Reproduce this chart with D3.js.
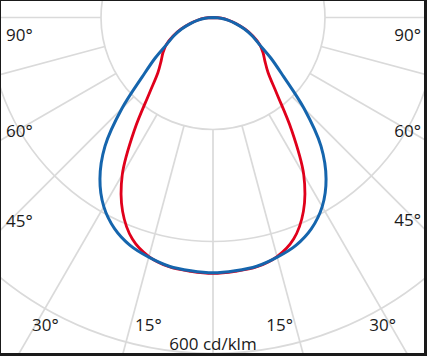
<!DOCTYPE html>
<html>
<head>
<meta charset="utf-8">
<script src="https://cdn.jsdelivr.net/npm/d3@7"></script>
<style>
  html, body { margin: 0; padding: 0; background: #fff; }
  svg { display: block; }
  text { font-family: "Open Sans", "DejaVu Sans", sans-serif; }
</style>
</head>
<body>
<svg id="chart" width="427" height="356"></svg>
<script>
// ---- data (cd/klm), symmetric curves, gamma angle from nadir ----
const gammaAngles = [0,5,10,15,20,25,30,35,40,45,50,55,60,65,70,75,80,85,90];
const blueValues  = [456,454,451,443,433,416,390,352,300,230,165,126,95,77,59,41,27,14,0];
const redValues   = [457,455,452,442,421,382,324,244,177,139,121,109,96,79,61,43,28,15,0];
const gridCircles = [200,400,600];
const gridAngles  = [-90,-75,-60,-45,-30,-15,0,15,30,45,60,75,90];
const angleLabels = ["90°","60°","45°","30°","15°"];
const scaleLabel  = "600 cd/klm";

// ---- layout ----
const W = 427, H = 356;
const cx = 213, cy = 17.5;
const svg = d3.select("#chart");
svg.append("rect").attr("width", W).attr("height", H).attr("fill", "#fff");

const r = d3.scaleLinear().domain([0, 600]).range([0, 336]);
const g = svg.append("g").attr("transform", `translate(${cx},${cy})`);

// grid circles
g.selectAll("circle.grid").data(gridCircles).join("circle")
  .attr("class", "grid")
  .attr("r", d => r(d))
  .attr("fill", "none")
  .attr("stroke", "#dadada")
  .attr("stroke-width", 1.7);

// radial lines (start at innermost circle)
const rad = d => d * Math.PI / 180;
g.selectAll("line.spoke").data(gridAngles).join("line")
  .attr("class", "spoke")
  .attr("x1", d => r(gridCircles[0]) * Math.sin(rad(d)))
  .attr("y1", d => r(gridCircles[0]) * Math.cos(rad(d)))
  .attr("x2", d => r(1200) * Math.sin(rad(d)))
  .attr("y2", d => r(1200) * Math.cos(rad(d)))
  .attr("stroke", "#dadada")
  .attr("stroke-width", 1.7);

// curves
function pts(values) {
  const left = gammaAngles.map((a, i) => ({ a: Math.PI + rad(a), v: values[i] })).reverse();
  const right = gammaAngles.slice(1).map((a, i) => ({ a: Math.PI - rad(a), v: values[i + 1] }));
  return left.concat(right);
}
const line = d3.lineRadial()
  .angle(d => d.a)
  .radius(d => r(d.v))
  .curve(d3.curveCatmullRom.alpha(0.5));

g.append("path").datum(pts(redValues))
  .attr("d", line).attr("fill", "none")
  .attr("stroke", "#e0001b").attr("stroke-width", 2.8)
  .attr("stroke-linejoin", "round");
g.append("path").datum(pts(blueValues))
  .attr("d", line).attr("fill", "none")
  .attr("stroke", "#1565ad").attr("stroke-width", 3)
  .attr("stroke-linejoin", "round");

// angle labels
const fs = 17;
const labelPos = [
  { t: angleLabels[0], x: 6,   y: 41,  anchor: "start" },
  { t: angleLabels[1], x: 6,   y: 137, anchor: "start" },
  { t: angleLabels[2], x: 6,   y: 227, anchor: "start" },
  { t: angleLabels[3], x: 32,  y: 331, anchor: "start" },
  { t: angleLabels[4], x: 135, y: 331, anchor: "start" },
  { t: angleLabels[0], x: 421, y: 41,  anchor: "end" },
  { t: angleLabels[1], x: 421, y: 137, anchor: "end" },
  { t: angleLabels[2], x: 421, y: 226, anchor: "end" },
  { t: angleLabels[3], x: 396, y: 331, anchor: "end" },
  { t: angleLabels[4], x: 293, y: 331, anchor: "end" }
];
svg.selectAll("text.ang").data(labelPos).join("text")
  .attr("class", "ang")
  .attr("x", d => d.x).attr("y", d => d.y)
  .attr("text-anchor", d => d.anchor)
  .attr("font-size", fs)
  .attr("fill", "#1a1a1a")
  .text(d => d.t);

svg.append("text")
  .attr("x", cx).attr("y", 350)
  .attr("text-anchor", "middle")
  .attr("font-size", fs)
  .attr("fill", "#1a1a1a")
  .text(scaleLabel);

// frame
svg.append("rect").attr("x", 0).attr("y", 0).attr("width", 1).attr("height", H).attr("fill", "#1a1a1a");
svg.append("rect").attr("x", 0).attr("y", 0).attr("width", W).attr("height", 1).attr("fill", "#1a1a1a");
svg.append("rect").attr("x", W - 3).attr("y", 0).attr("width", 3).attr("height", H).attr("fill", "#1a1a1a");
svg.append("rect").attr("x", 0).attr("y", H - 3).attr("width", W).attr("height", 3).attr("fill", "#1a1a1a");
</script>
</body>
</html>
